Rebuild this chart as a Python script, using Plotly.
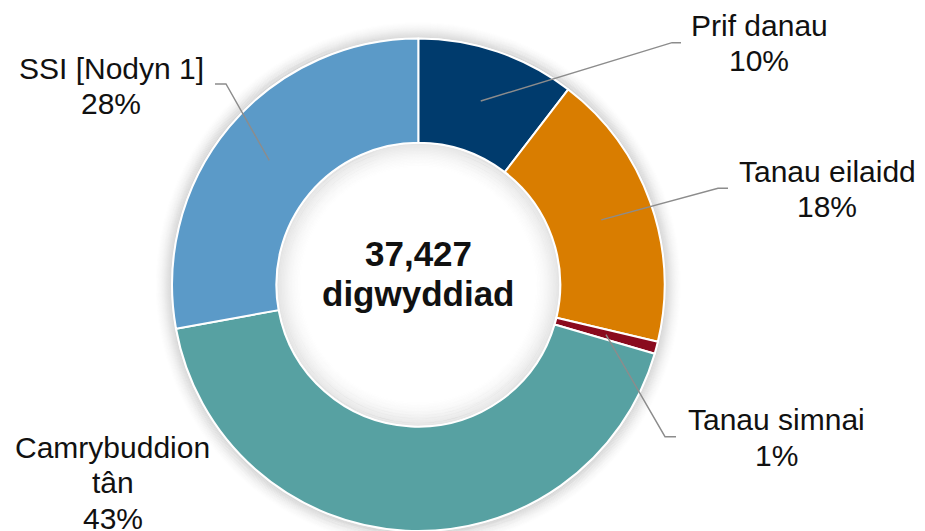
import math

import plotly.graph_objects as go

# Incident counts by category (total 37,427)
CATEGORIES = ["Prif danau", "Tanau eilaidd", "Tanau simnai", "Camrybuddion tân", "SSI [Nodyn 1]"]
LABEL_LINES = [["Prif danau"], ["Tanau eilaidd"], ["Tanau simnai"], ["Camrybuddion", "tân"], ["SSI [Nodyn 1]"]]
COUNTS = [3900, 6850, 300, 15950, 10427]
CENTRE_WORD = "digwyddiad"

COLORS = ["#003B6D", "#D97D00", "#8A0A1E", "#57A1A2", "#5B9AC8"]

W, H = 925, 531
CX, CY = 418.3, 284.8          # donut centre, px
R_OUT, R_IN = 246.3, 142.0     # radii, px
FONT = "Liberation Sans, Arial, sans-serif"

# label placement (px): centre x, middle of first line, elbow + end of leader (None = no leader)
LABEL_POS = [
    (759, 25.5, (672, 42.7), (681, 42.7)),
    (827, 171.0, (718, 188.3), (728, 188.3)),
    (776, 419.5, (665, 436.7), (676, 436.7)),
    (112.5, 447.5, None, None),
    (111, 68.0, (226, 84.0), (215, 84.0)),
]
LINE_STEP = 35.5


def px(x, y):
    return x / W, 1 - y / H


total = sum(COUNTS)

fig = go.Figure(go.Pie(
    labels=CATEGORIES, values=COUNTS, sort=False, direction="clockwise", rotation=0,
    hole=R_IN / R_OUT, marker=dict(colors=COLORS, line=dict(color="white", width=2)),
    textinfo="none", hoverinfo="label+value+percent", showlegend=False,
    domain=dict(x=[(CX - R_OUT) / W, (CX + R_OUT) / W], y=[0, 1 - (CY - R_OUT) / H]),
))

shapes = []
# soft glow outside the ring and inside the hole
for i in range(1, 18):
    a = 0.11 * (1 - i / 18) ** 1.6
    for rad in (R_OUT + i, R_IN - i * 1.5):
        x0, y0 = px(CX - rad, CY + rad)
        x1, y1 = px(CX + rad, CY - rad)
        shapes.append(dict(type="circle", xref="paper", yref="paper", x0=x0, y0=y0, x1=x1, y1=y1,
                           line=dict(color=f"rgba(0,0,0,{a:.4f})", width=1.6), layer="below"))

annotations = []
cum = 0
r_mid = (R_OUT + R_IN) / 2
for lines, count, (lx, ly, elbow, end) in zip(LABEL_LINES, COUNTS, LABEL_POS):
    theta = 2 * math.pi * (cum + count / 2) / total
    cum += count
    texts = lines + [f"{round(100 * count / total)}%"]
    for k, t in enumerate(texts):
        ax_, ay_ = px(lx, ly + k * LINE_STEP)
        annotations.append(dict(x=ax_, y=ay_, xref="paper", yref="paper", text=t, showarrow=False,
                                xanchor="center", yanchor="middle",
                                font=dict(family=FONT, size=30, color="#111111")))
    if elbow is None:
        continue
    sx, sy = CX + r_mid * math.sin(theta), CY - r_mid * math.cos(theta)
    pts = [px(sx, sy), px(*elbow), px(*end)]
    path = "M " + " L ".join(f"{x:.5f},{y:.5f}" for x, y in pts)
    shapes.append(dict(type="path", xref="paper", yref="paper", path=path,
                       line=dict(color="#8C8C8C", width=1.4), layer="above"))

for t, y in ((f"{total:,}", 253), (CENTRE_WORD, 293)):
    ax_, ay_ = px(CX, y)
    annotations.append(dict(x=ax_, y=ay_, xref="paper", yref="paper", text=f"<b>{t}</b>",
                            showarrow=False, xanchor="center", yanchor="middle",
                            font=dict(family=FONT, size=35, color="#111111")))

fig.update_layout(
    width=W, height=H, margin=dict(l=0, r=0, t=0, b=0),
    paper_bgcolor="white", plot_bgcolor="white",
    shapes=shapes, annotations=annotations,
)

# the page's default 8px body margin would push the fixed-size figure off the window
fig.write_html("out.html", config={"displayModeBar": False},
               post_script="document.body.style.margin = '0';")
